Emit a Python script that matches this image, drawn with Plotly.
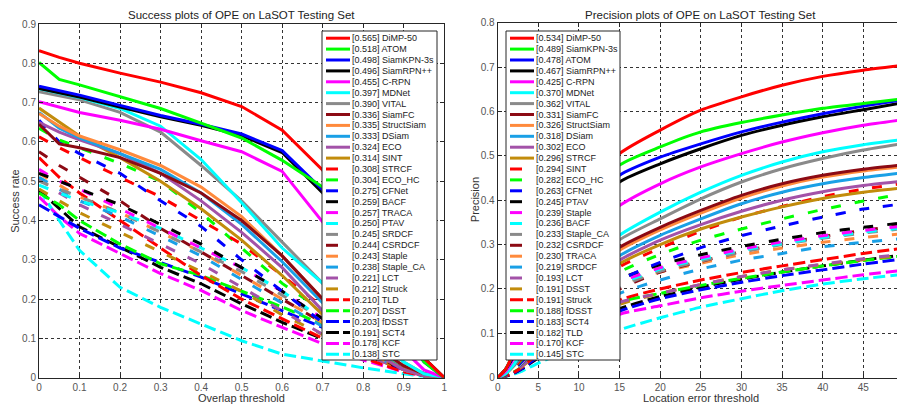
import plotly.graph_objects as go

W, H = 897, 405

# ---------------- colours / styles (MATLAB-like cycle) ----------------
COLORS = ['#ff0000', '#00ff00', '#0000ff', '#000000', '#ff00ff', '#00ffff',
          '#8a8a8a', '#8c0a14', '#ff8a3c', '#1aa0e6', '#a352a8', '#c28c0c']

# ---------------- Success plot data ----------------
S_T = [0, 0.05, 0.1, 0.2, 0.3, 0.4, 0.5, 0.6, 0.7, 0.8, 0.9, 0.95, 1.0]
S_NAMES = ['DiMP-50', 'ATOM', 'SiamKPN-3s', 'SiamRPN++', 'C-RPN', 'MDNet', 'VITAL',
           'SiamFC', 'StructSiam', 'DSiam', 'ECO', 'SINT', 'STRCF', 'ECO_HC', 'CFNet',
           'BACF', 'TRACA', 'PTAV', 'SRDCF', 'CSRDCF', 'Staple', 'Staple_CA', 'LCT',
           'Struck', 'TLD', 'DSST', 'fDSST', 'SCT4', 'KCF', 'STC']
S_AUC = [0.565, 0.518, 0.498, 0.496, 0.455, 0.397, 0.390, 0.336, 0.335, 0.333, 0.324,
         0.314, 0.308, 0.304, 0.275, 0.259, 0.257, 0.250, 0.245, 0.244, 0.243, 0.238,
         0.221, 0.212, 0.210, 0.207, 0.203, 0.191, 0.178, 0.138]

s_dimp50 = [0.832, 0.815, 0.800, 0.775, 0.752, 0.725, 0.690, 0.630, 0.528, 0.36, 0.14, 0.05, 0.0]
s_atom = [0.802, 0.759, 0.745, 0.715, 0.685, 0.648, 0.610, 0.553, 0.485, 0.33, 0.12, 0.04, 0.0]
s_siamkpn = [0.742, 0.730, 0.719, 0.693, 0.667, 0.645, 0.620, 0.578, 0.478, 0.32, 0.11, 0.04, 0.0]
s_siamrpnpp = [0.736, 0.725, 0.714, 0.689, 0.664, 0.642, 0.616, 0.573, 0.470, 0.31, 0.12, 0.05, 0.0]
s_crpn = [0.702, 0.688, 0.675, 0.655, 0.632, 0.603, 0.575, 0.525, 0.396, 0.22, 0.07, 0.02, 0.0]
s_mdnet = [0.735, 0.724, 0.713, 0.685, 0.640, 0.555, 0.445, 0.330, 0.240, 0.13, 0.04, 0.01, 0.0]
s_vital = [0.728, 0.717, 0.707, 0.675, 0.625, 0.540, 0.450, 0.345, 0.240, 0.13, 0.04, 0.01, 0.0]
s_siamfc = [0.645, 0.595, 0.585, 0.560, 0.520, 0.470, 0.400, 0.310, 0.200, 0.10, 0.03, 0.01, 0.0]
s_structsiam = [0.672, 0.640, 0.615, 0.580, 0.540, 0.485, 0.410, 0.310, 0.200, 0.10, 0.03, 0.01, 0.0]
s_dsiam = [0.675, 0.635, 0.610, 0.570, 0.530, 0.470, 0.390, 0.295, 0.190, 0.09, 0.03, 0.01, 0.0]
s_eco = [0.650, 0.625, 0.605, 0.570, 0.520, 0.450, 0.370, 0.280, 0.170, 0.08, 0.02, 0.005, 0.0]
s_sint = [0.686, 0.650, 0.615, 0.560, 0.500, 0.430, 0.350, 0.260, 0.160, 0.08, 0.02, 0.005, 0.0]
s_strcf = [0.613, 0.585, 0.560, 0.510, 0.460, 0.400, 0.340, 0.260, 0.180, 0.09, 0.03, 0.01, 0.0]
s_ecohc = [0.635, 0.605, 0.585, 0.545, 0.500, 0.420, 0.330, 0.240, 0.170, 0.09, 0.03, 0.01, 0.0]
s_cfnet = [0.655, 0.600, 0.570, 0.520, 0.450, 0.385, 0.300, 0.220, 0.140, 0.07, 0.02, 0.005, 0.0]
s_bacf = [0.520, 0.500, 0.480, 0.440, 0.390, 0.340, 0.280, 0.220, 0.150, 0.08, 0.03, 0.01, 0.0]
s_traca = [0.530, 0.500, 0.480, 0.430, 0.380, 0.330, 0.280, 0.220, 0.150, 0.08, 0.03, 0.01, 0.0]
s_ptav = [0.490, 0.470, 0.450, 0.420, 0.380, 0.330, 0.280, 0.220, 0.150, 0.08, 0.03, 0.01, 0.0]
s_srdcf = [0.500, 0.480, 0.460, 0.420, 0.370, 0.320, 0.270, 0.210, 0.150, 0.08, 0.03, 0.01, 0.0]
s_csrdcf = [0.575, 0.540, 0.510, 0.450, 0.380, 0.320, 0.260, 0.200, 0.140, 0.07, 0.02, 0.005, 0.0]
s_staple = [0.520, 0.490, 0.460, 0.420, 0.370, 0.320, 0.260, 0.200, 0.140, 0.07, 0.02, 0.005, 0.0]
s_stapleca = [0.510, 0.480, 0.450, 0.410, 0.360, 0.310, 0.250, 0.190, 0.130, 0.07, 0.02, 0.005, 0.0]
s_lct = [0.505, 0.470, 0.440, 0.390, 0.340, 0.290, 0.230, 0.170, 0.110, 0.06, 0.02, 0.005, 0.0]
s_struck = [0.480, 0.450, 0.420, 0.370, 0.320, 0.270, 0.220, 0.160, 0.110, 0.06, 0.02, 0.005, 0.0]
s_tld = [0.560, 0.510, 0.470, 0.400, 0.330, 0.260, 0.200, 0.150, 0.100, 0.05, 0.015, 0.005, 0.0]
s_dsst = [0.470, 0.440, 0.400, 0.340, 0.290, 0.260, 0.220, 0.180, 0.135, 0.08, 0.03, 0.01, 0.0]
s_fdsst = [0.440, 0.410, 0.380, 0.330, 0.294, 0.256, 0.213, 0.171, 0.128, 0.08, 0.03, 0.01, 0.0]
s_sct4 = [0.477, 0.430, 0.384, 0.332, 0.281, 0.239, 0.188, 0.141, 0.099, 0.06, 0.02, 0.005, 0.0]
s_kcf = [0.460, 0.410, 0.367, 0.316, 0.265, 0.222, 0.171, 0.128, 0.086, 0.045, 0.015, 0.005, 0.0]
s_stc = [0.480, 0.400, 0.324, 0.230, 0.179, 0.137, 0.094, 0.060, 0.043, 0.025, 0.01, 0.003, 0.0]

S_CURVES = [s_dimp50, s_atom, s_siamkpn, s_siamrpnpp, s_crpn, s_mdnet, s_vital, s_siamfc,
            s_structsiam, s_dsiam, s_eco, s_sint, s_strcf, s_ecohc, s_cfnet, s_bacf, s_traca,
            s_ptav, s_srdcf, s_csrdcf, s_staple, s_stapleca, s_lct, s_struck, s_tld, s_dsst,
            s_fdsst, s_sct4, s_kcf, s_stc]

# ---------------- Precision plot data ----------------
P_X = [0, 1, 2, 3, 5, 10, 15, 20, 25, 30, 35, 40, 45, 50]
P_NAMES = ['DiMP-50', 'SiamKPN-3s', 'ATOM', 'SiamRPN++', 'C-RPN', 'MDNet', 'VITAL',
           'SiamFC', 'StructSiam', 'DSiam', 'ECO', 'STRCF', 'SINT', 'ECO_HC', 'CFNet',
           'PTAV', 'Staple', 'BACF', 'Staple_CA', 'CSRDCF', 'TRACA', 'SRDCF', 'LCT',
           'DSST', 'Struck', 'fDSST', 'SCT4', 'TLD', 'KCF', 'STC']
P_SCORE = [0.534, 0.489, 0.478, 0.467, 0.425, 0.370, 0.362, 0.331, 0.326, 0.318, 0.302,
           0.296, 0.294, 0.282, 0.263, 0.245, 0.239, 0.236, 0.233, 0.232, 0.230, 0.219,
           0.193, 0.191, 0.191, 0.188, 0.183, 0.182, 0.170, 0.145]

p_dimp50 = [0, 0.02, 0.06, 0.11, 0.22, 0.40, 0.505, 0.558, 0.603, 0.633, 0.659, 0.679, 0.693, 0.704]
p_siamkpn = [0, 0.02, 0.06, 0.11, 0.21, 0.38, 0.479, 0.520, 0.554, 0.575, 0.592, 0.607, 0.618, 0.629]
p_atom = [0, 0.02, 0.055, 0.10, 0.20, 0.36, 0.456, 0.497, 0.527, 0.554, 0.576, 0.595, 0.612, 0.627]
p_siamrpnpp = [0, 0.02, 0.05, 0.095, 0.19, 0.35, 0.441, 0.482, 0.516, 0.546, 0.569, 0.588, 0.604, 0.620]
p_crpn = [0, 0.015, 0.045, 0.085, 0.17, 0.31, 0.388, 0.437, 0.475, 0.505, 0.531, 0.552, 0.569, 0.582]
p_mdnet = [0, 0.01, 0.03, 0.06, 0.12, 0.24, 0.321, 0.373, 0.418, 0.456, 0.486, 0.509, 0.525, 0.537]
p_vital = [0, 0.01, 0.03, 0.06, 0.12, 0.235, 0.311, 0.358, 0.403, 0.441, 0.471, 0.494, 0.513, 0.528]
p_siamfc = [0, 0.01, 0.03, 0.055, 0.11, 0.22, 0.294, 0.339, 0.377, 0.411, 0.437, 0.456, 0.470, 0.480]
p_structsiam = [0, 0.01, 0.03, 0.055, 0.11, 0.215, 0.287, 0.333, 0.371, 0.405, 0.432, 0.452, 0.466, 0.476]
p_dsiam = [0, 0.01, 0.028, 0.05, 0.10, 0.205, 0.275, 0.321, 0.358, 0.392, 0.418, 0.437, 0.451, 0.462]
p_eco = [0, 0.01, 0.028, 0.05, 0.10, 0.20, 0.265, 0.310, 0.345, 0.375, 0.400, 0.419, 0.433, 0.443]
p_strcf = [0, 0.01, 0.027, 0.05, 0.10, 0.195, 0.257, 0.300, 0.335, 0.362, 0.385, 0.404, 0.418, 0.428]
p_sint = [0, 0.008, 0.022, 0.045, 0.09, 0.18, 0.250, 0.292, 0.330, 0.362, 0.386, 0.408, 0.425, 0.438]
p_ecohc = [0, 0.008, 0.022, 0.042, 0.085, 0.17, 0.238, 0.278, 0.310, 0.335, 0.358, 0.379, 0.398, 0.415]
p_cfnet = [0, 0.007, 0.02, 0.038, 0.08, 0.16, 0.220, 0.260, 0.293, 0.320, 0.342, 0.362, 0.380, 0.392]
p_ptav = [0, 0.007, 0.02, 0.038, 0.08, 0.16, 0.222, 0.255, 0.277, 0.296, 0.312, 0.327, 0.339, 0.349]
p_staple = [0, 0.007, 0.02, 0.036, 0.075, 0.155, 0.215, 0.248, 0.270, 0.290, 0.306, 0.320, 0.332, 0.342]
p_bacf = [0, 0.007, 0.019, 0.035, 0.075, 0.15, 0.210, 0.245, 0.267, 0.287, 0.302, 0.316, 0.328, 0.338]
p_stapleca = [0, 0.007, 0.019, 0.034, 0.072, 0.148, 0.205, 0.240, 0.263, 0.283, 0.300, 0.314, 0.326, 0.336]
p_csrdcf = [0, 0.006, 0.018, 0.033, 0.07, 0.145, 0.200, 0.238, 0.262, 0.284, 0.302, 0.318, 0.332, 0.344]
p_traca = [0, 0.007, 0.019, 0.035, 0.074, 0.15, 0.210, 0.238, 0.258, 0.277, 0.292, 0.305, 0.316, 0.325]
p_srdcf = [0, 0.006, 0.017, 0.032, 0.068, 0.135, 0.190, 0.220, 0.245, 0.265, 0.280, 0.295, 0.305, 0.314]
p_lct = [0, 0.005, 0.014, 0.027, 0.058, 0.12, 0.170, 0.190, 0.210, 0.228, 0.243, 0.256, 0.268, 0.279]
p_dsst = [0, 0.005, 0.013, 0.025, 0.055, 0.115, 0.165, 0.190, 0.210, 0.228, 0.243, 0.255, 0.266, 0.276]
p_struck = [0, 0.004, 0.012, 0.024, 0.055, 0.12, 0.175, 0.200, 0.220, 0.237, 0.252, 0.266, 0.280, 0.292]
p_fdsst = [0, 0.005, 0.013, 0.025, 0.055, 0.118, 0.170, 0.190, 0.208, 0.224, 0.238, 0.252, 0.264, 0.275]
p_sct4 = [0, 0.004, 0.011, 0.021, 0.048, 0.105, 0.150, 0.178, 0.198, 0.215, 0.230, 0.243, 0.256, 0.268]
p_tld = [0, 0.003, 0.01, 0.02, 0.045, 0.105, 0.155, 0.183, 0.204, 0.222, 0.238, 0.252, 0.265, 0.277]
p_kcf = [0, 0.004, 0.011, 0.02, 0.045, 0.098, 0.143, 0.162, 0.180, 0.195, 0.208, 0.220, 0.232, 0.242]
p_stc = [0, 0.003, 0.008, 0.015, 0.033, 0.072, 0.108, 0.135, 0.159, 0.178, 0.196, 0.211, 0.223, 0.233]

P_CURVES = [p_dimp50, p_siamkpn, p_atom, p_siamrpnpp, p_crpn, p_mdnet, p_vital, p_siamfc,
            p_structsiam, p_dsiam, p_eco, p_strcf, p_sint, p_ecohc, p_cfnet, p_ptav, p_staple,
            p_bacf, p_stapleca, p_csrdcf, p_traca, p_srdcf, p_lct, p_dsst, p_struck, p_fdsst,
            p_sct4, p_tld, p_kcf, p_stc]

S_TICKS = [0, 0.1, 0.2, 0.3, 0.4, 0.5, 0.6, 0.7, 0.8, 0.9, 1]
P_XTICKS = [0, 5, 10, 15, 20, 25, 30, 35, 40, 45]


def style(i):
    col = COLORS[i % 12]
    if i < 12:
        return col, 'solid'
    if i < 24:
        return col, '10px,14px'
    return col, '12px,5px'


def px(x):
    return x / W


def py(y):
    return 1 - y / H


fig = go.Figure()

# draw lower ranked first so that the best are on top
for i in reversed(range(30)):
    col, dash = style(i)
    fig.add_trace(go.Scatter(x=S_T, y=S_CURVES[i], mode='lines', xaxis='x', yaxis='y',
                             line=dict(color=col, width=3, dash=dash), showlegend=False,
                             name=S_NAMES[i]))
for i in reversed(range(30)):
    col, dash = style(i)
    fig.add_trace(go.Scatter(x=P_X, y=P_CURVES[i], mode='lines', xaxis='x2', yaxis='y2',
                             line=dict(color=col, width=3, dash=dash, shape='spline', smoothing=0.6),
                             showlegend=False, name=P_NAMES[i]))

FONT = 'Liberation Sans, Arial, Helvetica, sans-serif'
AX = dict(showline=True, linecolor='#262626', linewidth=1, ticks='inside', ticklen=4,
          tickcolor='#262626', showgrid=True, gridcolor='#333333', griddash='dot',
          gridwidth=1, zeroline=False, automargin=False,
          tickfont=dict(size=10, color='#555555', family=FONT))

# plot-area pixel geometry
L_X0, L_X1, L_Y0, L_Y1 = 39, 444.3, 24, 377.7
R_X0, R_Y0, R_Y1 = 497.7, 22.7, 377.7
R_PX_PER_UNIT = 8.125

fig.update_layout(
    width=W, height=H, margin=dict(l=0, r=0, t=0, b=0, autoexpand=False),
    paper_bgcolor='white', plot_bgcolor='white', showlegend=False,
    font=dict(family=FONT),
    xaxis=dict(AX, domain=[px(L_X0), px(L_X1)], range=[0, 1], tickvals=S_TICKS,
               ticktext=[f'{v:g}' for v in S_TICKS], mirror='allticks', anchor='y'),
    yaxis=dict(AX, domain=[py(L_Y1), py(L_Y0)], range=[0, 0.9], dtick=0.1,
               mirror='allticks', anchor='x'),
    xaxis2=dict(AX, domain=[px(R_X0), 1.0], range=[0, (W - R_X0) / R_PX_PER_UNIT],
                tickvals=P_XTICKS, mirror='allticks', anchor='y2'),
    yaxis2=dict(AX, domain=[py(R_Y1), py(R_Y0)], range=[0, 0.8], dtick=0.1,
                mirror=False, anchor='x2'),
)

ann = []
shapes = []

# titles and axis labels
ann.append(dict(text='Success plots of OPE on LaSOT Testing Set', x=px((L_X0 + L_X1) / 2), y=py(15),
                xref='paper', yref='paper', showarrow=False, xanchor='center', yanchor='middle',
                font=dict(size=11.5, color='#222222', family=FONT)))
ann.append(dict(text='Precision plots of OPE on LaSOT Testing Set', x=px(R_X0 + 25 * R_PX_PER_UNIT), y=py(15),
                xref='paper', yref='paper', showarrow=False, xanchor='center', yanchor='middle',
                font=dict(size=11.5, color='#222222', family=FONT)))
ann.append(dict(text='Overlap threshold', x=px((L_X0 + L_X1) / 2), y=py(398),
                xref='paper', yref='paper', showarrow=False, xanchor='center', yanchor='middle',
                font=dict(size=11, color='#333333', family=FONT)))
ann.append(dict(text='Location error threshold', x=px(R_X0 + 25 * R_PX_PER_UNIT), y=py(398),
                xref='paper', yref='paper', showarrow=False, xanchor='center', yanchor='middle',
                font=dict(size=11, color='#333333', family=FONT)))
ann.append(dict(text='Success rate', x=px(15), y=py((L_Y0 + L_Y1) / 2), textangle=-90,
                xref='paper', yref='paper', showarrow=False, xanchor='center', yanchor='middle',
                font=dict(size=11, color='#333333', family=FONT)))
ann.append(dict(text='Precision', x=px(475), y=py((R_Y0 + R_Y1) / 2), textangle=-90,
                xref='paper', yref='paper', showarrow=False, xanchor='center', yanchor='middle',
                font=dict(size=11, color='#333333', family=FONT)))


def add_legend(left, right, names, scores):
    top, bottom = 31, 360
    first, step = 38.2, 10.9
    shapes.append(dict(type='rect', xref='paper', yref='paper', x0=px(left), x1=px(right),
                       y0=py(bottom), y1=py(top), fillcolor='white',
                       line=dict(color='#262626', width=1), layer='above'))
    for i, (n, s) in enumerate(zip(names, scores)):
        yc = first + i * step
        col, dash = style(i)
        if i < 12:
            x1, d = left + 28, 'solid'
        elif i < 24:
            x1, d = left + 16, 'solid'
        else:
            x1, d = left + 28, '13px,4px'
        shapes.append(dict(type='line', xref='paper', yref='paper', x0=px(left + 4), x1=px(x1),
                           y0=py(yc), y1=py(yc), line=dict(color=col, width=3, dash=d),
                           layer='above'))
        ann.append(dict(text=f'[{s:.3f}] {n}', x=px(left + 28), y=py(yc), xref='paper',
                        yref='paper', showarrow=False, xanchor='left', yanchor='middle',
                        font=dict(size=9, color='#222222', family=FONT)))


add_legend(322, 437, S_NAMES, S_AUC)
add_legend(506, 620, P_NAMES, P_SCORE)

fig.update_layout(annotations=ann, shapes=shapes)
fig.write_html('out.html', config={'displayModeBar': False},
               post_script="document.body.style.margin='0';document.body.style.overflow='hidden';")
